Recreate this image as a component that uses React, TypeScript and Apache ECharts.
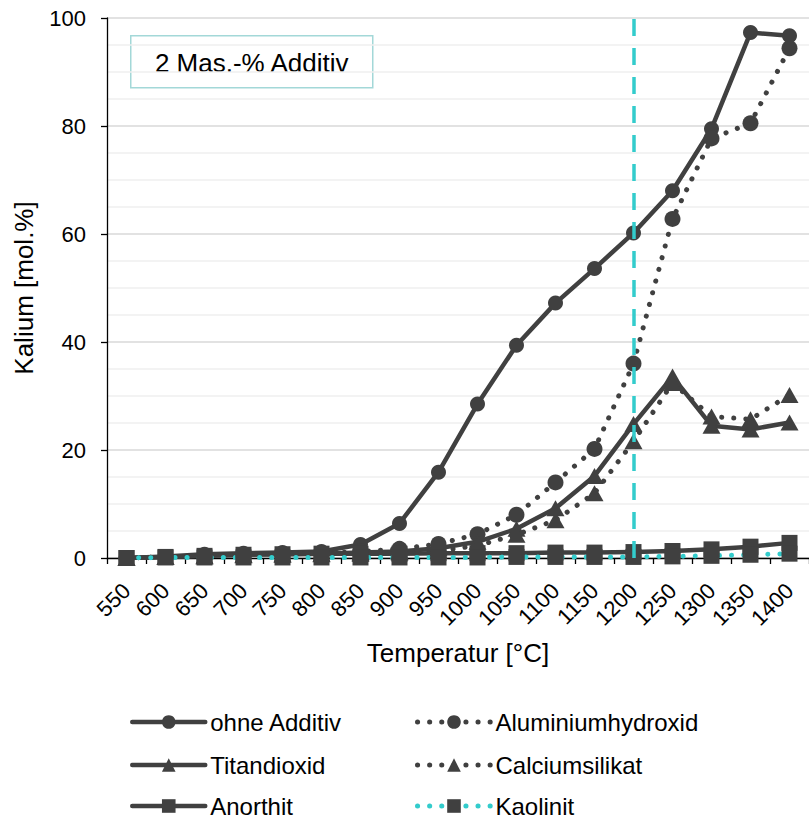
import React, { useEffect, useRef } from "react";
import * as echarts from "echarts";

const categories = ["550", "600", "650", "700", "750", "800", "850", "900", "950", "1000", "1050", "1100", "1150", "1200", "1250", "1300", "1350", "1400"];
const ohneAdditiv = [0, 0.3, 0.7, 0.9, 1.0, 1.2, 2.5, 6.4, 15.9, 28.5, 39.4, 47.2, 53.6, 60.2, 68.0, 79.5, 97.3, 96.7];
const aluminiumhydroxid = [0, 0.2, 0.4, 0.6, 0.7, 0.9, 1.2, 1.7, 2.6, 4.4, 8.0, 14.0, 20.2, 36.0, 62.8, 77.7, 80.5, 94.4];
const titandioxid = [0, 0.2, 0.4, 0.6, 0.7, 0.8, 1.0, 1.2, 1.8, 3.0, 5.4, 9.2, 15.2, 24.8, 33.6, 24.5, 23.8, 25.1];
const calciumsilikat = [0, 0.2, 0.3, 0.5, 0.6, 0.7, 0.8, 1.0, 1.3, 2.3, 4.3, 7.0, 12.0, 21.6, 32.4, 26.2, 25.7, 30.2];
const anorthit = [0, 0.2, 0.4, 0.6, 0.7, 0.8, 0.8, 0.8, 0.9, 0.9, 0.9, 1.0, 1.0, 1.1, 1.3, 1.6, 2.1, 2.8];
const kaolinit = [0, 0.1, 0.1, 0.1, 0.1, 0.1, 0.1, 0.1, 0.1, 0.1, 0.2, 0.2, 0.2, 0.2, 0.3, 0.4, 0.6, 0.8];
const yTicks = [0, 20, 40, 60, 80, 100];
const markerTemp = "1200";
const boxLabel = "2 Mas.-% Additiv";

const DARK = "#404040";
const CYAN = "#33cccc";
const FONT = "'Liberation Sans', Arial, sans-serif";
const DOT = [0.1, 12];

export default function App() {
  const ref = useRef<HTMLDivElement>(null);
  useEffect(() => {
    if (!ref.current) return;
    const chart = echarts.init(ref.current, undefined, { renderer: "svg" });

    const solid = (w: number) => ({ color: DARK, width: w, type: "solid" as const, cap: "round" as const, join: "round" as const });
    const dotted = (color: string) => ({ color, width: 5, type: DOT, cap: "round" as const, join: "round" as const });

    const seriesDefs = [
      { name: "ohne Additiv", data: ohneAdditiv, symbol: "circle", symbolSize: 15, line: solid(4.5) },
      { name: "Aluminiumhydroxid", data: aluminiumhydroxid, symbol: "circle", symbolSize: 16, line: dotted(DARK) },
      { name: "Titandioxid", data: titandioxid, symbol: "triangle", symbolSize: [18, 16], line: solid(4.5) },
      { name: "Calciumsilikat", data: calciumsilikat, symbol: "triangle", symbolSize: [18, 16], line: dotted(DARK) },
      { name: "Anorthit", data: anorthit, symbol: "rect", symbolSize: 16, line: solid(4.5) },
      { name: "Kaolinit", data: kaolinit, symbol: "rect", symbolSize: 16, line: dotted(CYAN) },
    ];

    const legendPos = [
      { left: 130, center: 722 },
      { left: 415, center: 722 },
      { left: 130, center: 765 },
      { left: 415, center: 765 },
      { left: 130, center: 806 },
      { left: 415, center: 806 },
    ];

    const series: any[] = seriesDefs.map((s) => ({
      name: s.name,
      type: "line",
      data: s.data,
      symbol: s.symbol,
      symbolSize: s.symbolSize,
      showSymbol: true,
      lineStyle: s.line,
      itemStyle: { color: DARK, borderWidth: 0 },
      emphasis: { disabled: true },
    }));
    series.push({
      name: "_marker",
      type: "line",
      data: [],
      markLine: {
        silent: true,
        symbol: ["none", "none"],
        label: { show: false },
        lineStyle: { color: CYAN, width: 3.5, type: [17, 12] },
        data: [{ xAxis: markerTemp }],
      },
      z: 10,
    });

    const legends = seriesDefs.map((s, i) => ({
      data: [s.name],
      left: legendPos[i].left,
      top: legendPos[i].center - 12,
      padding: 0,
      itemWidth: 73,
      itemHeight: 17,
      selectedMode: false,
      textStyle: { fontSize: 24, lineHeight: 24, color: "#000", fontFamily: FONT },
      lineStyle: { ...s.line },
      itemStyle: { color: DARK },
    }));

    chart.setOption({
      animation: false,
      textStyle: { fontFamily: FONT },
      grid: { left: 107, right: -6, top: 18, bottom: 260, containLabel: false },
      legend: legends,
      xAxis: {
        type: "category",
        data: categories,
        boundaryGap: true,
        name: "Temperatur [°C]",
        nameLocation: "middle",
        nameGap: 82,
        nameTextStyle: { fontSize: 26, color: "#000", fontFamily: FONT },
        axisLine: { lineStyle: { color: "#000", width: 1.3 } },
        axisTick: { show: true, length: 6, interval: 0, lineStyle: { color: "#000", width: 1.3 } },
        axisLabel: { rotate: 45, interval: 0, fontSize: 22, color: "#000", margin: 29, fontFamily: FONT },
        splitLine: { show: false },
      },
      yAxis: {
        type: "value",
        min: yTicks[0],
        max: yTicks[yTicks.length - 1],
        interval: 20,
        name: "Kalium [mol.%]",
        nameLocation: "middle",
        nameGap: 70,
        nameTextStyle: { fontSize: 26, color: "#000", fontFamily: FONT },
        axisLine: { show: true, lineStyle: { color: "#000", width: 1.3 } },
        axisTick: { show: true, length: 6, lineStyle: { color: "#000", width: 1.3 } },
        axisLabel: { fontSize: 22, color: "#000", margin: 21, fontFamily: FONT },
        splitLine: { show: true, lineStyle: { color: "#d9d9d9", width: 1.5 } },
        minorTick: { show: false, splitNumber: 4 },
        minorSplitLine: { show: true, lineStyle: { color: "#efefef", width: 1.5 } },
      },
      graphic: [
        {
          type: "group",
          left: 130,
          top: 35,
          z: 20,
          children: [
            { type: "rect", shape: { x: 0, y: 0, width: 242, height: 52 }, style: { fill: "#fff", stroke: "#a3d8d8", lineWidth: 1.5 } },
            { type: "text", x: 121, y: 27, style: { text: boxLabel, fill: "#000", fontSize: 26, fontFamily: FONT, align: "center", verticalAlign: "middle" } },
          ],
        },
      ],
      series,
    });
    return () => chart.dispose();
  }, []);
  return <div ref={ref} style={{ position: "absolute", left: 0, top: 0, width: 809, height: 818 }} />;
}
